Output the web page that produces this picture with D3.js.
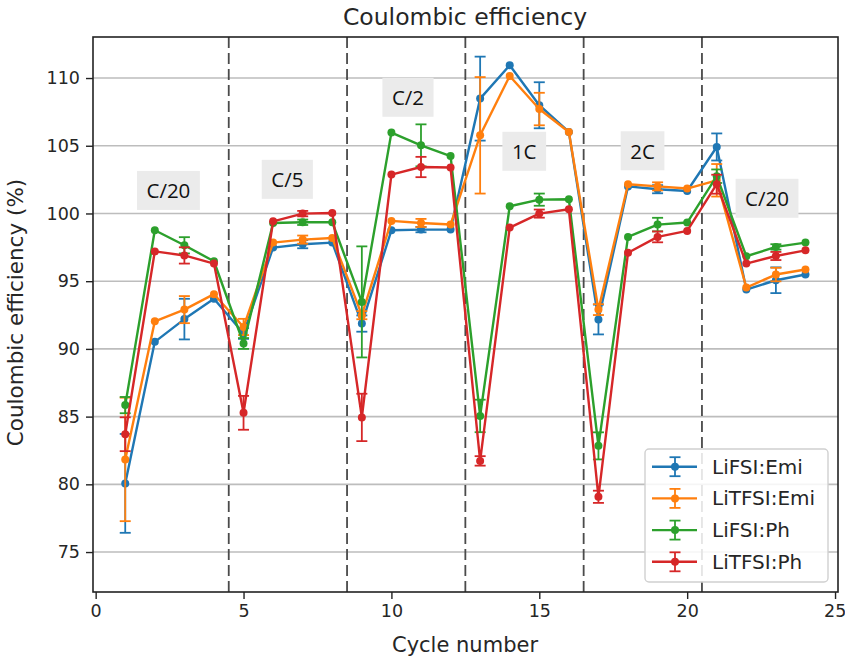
<!DOCTYPE html>
<html>
<head>
<meta charset="utf-8">
<script src="https://cdn.jsdelivr.net/npm/d3@7"></script>
<style>
  html, body { margin: 0; padding: 0; background: #fff; }
  svg { display: block; }
  text { font-family: "DejaVu Sans", sans-serif; fill: #262626; }
</style>
</head>
<body>
<svg id="chart" width="845" height="656"></svg>
<script>
// ---------- data ----------
const cycles = d3.range(1, 25);
const seriesNames = ["LiFSI:Emi", "LiTFSI:Emi", "LiFSI:Ph", "LiTFSI:Ph"];
const seriesColors = ["#1f77b4", "#ff7f0e", "#2ca02c", "#d62728"];

const lifsiEmi = [80.07, 90.52, 92.2, 93.7, 91.14, 97.48, 97.73, 97.85, 91.87, 98.76, 98.81, 98.81,
                  108.48, 110.94, 107.99, 106.02, 92.17, 102.0, 101.79, 101.66, 104.91, 94.38, 95.07, 95.49];
const lifsiEmiErr = [3.65, 0, 1.5, 0, 0.4, 0, 0.3, 0, 0.6, 0, 0.2, 0,
                     3.1, 0, 1.7, 0, 1.1, 0, 0.3, 0, 1.0, 0, 0.95, 0];

const litfsiEmi = [81.84, 92.04, 92.9, 94.04, 91.62, 97.85, 98.07, 98.19, 92.49, 99.45, 99.3, 99.18,
                   105.77, 110.15, 107.71, 106.02, 92.9, 102.16, 102.0, 101.84, 102.45, 94.53, 95.49, 95.86];
const litfsiEmiErr = [4.56, 0, 1.0, 0, 0.6, 0, 0.3, 0, 0.3, 0, 0.3, 0,
                      4.3, 0, 1.2, 0, 0.4, 0, 0.3, 0, 1.2, 0, 0.5, 0];

const lifsiPh = [85.85, 98.76, 97.65, 96.47, 90.4, 99.3, 99.35, 99.35, 93.47, 105.97, 105.03, 104.24,
                 85.05, 100.53, 101.02, 101.05, 82.84, 98.27, 99.18, 99.33, 102.75, 96.84, 97.53, 97.85];
const lifsiPhErr = [0.6, 0, 0.6, 0, 0.4, 0, 0.2, 0, 4.1, 0, 1.55, 0,
                    1.2, 0, 0.45, 0, 1.0, 0, 0.5, 0, 0.5, 0, 0.2, 0];

const litfsiPh = [83.7, 97.2, 96.9, 96.3, 85.28, 99.42, 99.99, 100.04, 84.94, 102.87, 103.43, 103.39,
                  81.73, 98.96, 99.99, 100.31, 79.08, 97.1, 98.27, 98.71, 102.16, 96.3, 96.86, 97.28];
const litfsiPhErr = [1.25, 0, 0.6, 0, 1.25, 0, 0.2, 0, 1.75, 0, 0.75, 0,
                     0.35, 0, 0.3, 0, 0.45, 0, 0.4, 0, 0.7, 0, 0.3, 0];

const seriesValues = [lifsiEmi, litfsiEmi, lifsiPh, litfsiPh];
const seriesErrors = [lifsiEmiErr, litfsiEmiErr, lifsiPhErr, litfsiPhErr];

const rateBoundaries = [4.5, 8.5, 12.5, 16.5, 20.5];
const rateLabels = ["C/20", "C/5", "C/2", "1C", "2C", "C/20"];
const rateLabelX = [2.46, 6.48, 10.56, 14.49, 18.49, 22.70];
const rateLabelY = [101.7, 102.52, 108.58, 104.59, 104.63, 101.12];

const xTicks = [0, 5, 10, 15, 20, 25];
const yTicks = [75, 80, 85, 90, 95, 100, 105, 110];

const titleText = "Coulombic efficiency";
const xLabelText = "Cycle number";
const yLabelText = "Coulombic efficiency (%)";

// ---------- layout ----------
const svg = d3.select("#chart");
const mLeft = 93, mRight = 838, mTop = 37, mBottom = 592;
const x = d3.scaleLinear().domain([-0.09, 25.1]).range([mLeft, mRight]);
const y = d3.scaleLinear().domain([72.05, 113.03]).range([mBottom, mTop]);

// grid
svg.append("g").selectAll("line").data(yTicks).join("line")
  .attr("x1", mLeft).attr("x2", mRight)
  .attr("y1", d => y(d)).attr("y2", d => y(d))
  .attr("stroke", "#bdbdbd").attr("stroke-width", 1.6);

// dashed separators
svg.append("g").selectAll("line").data(rateBoundaries).join("line")
  .attr("x1", d => x(d)).attr("x2", d => x(d))
  .attr("y1", mTop).attr("y2", mBottom)
  .attr("stroke", "#4a4a4a").attr("stroke-width", 1.8)
  .attr("stroke-dasharray", "11,5");

// annotation boxes
const ann = svg.append("g");
rateLabels.forEach((t, i) => {
  const g = ann.append("g");
  const txt = g.append("text")
    .attr("x", x(rateLabelX[i])).attr("y", y(rateLabelY[i]))
    .attr("text-anchor", "middle").attr("dominant-baseline", "central")
    .style("font-family", "'Open Sans', sans-serif")
    .style("font-size", "20.5px").style("fill", "#111")
    .text(t);
  const bb = txt.node().getBBox();
  g.insert("rect", "text")
    .attr("x", bb.x - 9.5).attr("y", y(rateLabelY[i]) - 19.5)
    .attr("width", bb.width + 19).attr("height", 39)
    .attr("fill", "#ebebeb");
});

// series
const capHalf = 5.5;
seriesValues.forEach((vals, si) => {
  const col = seriesColors[si];
  const errs = seriesErrors[si];
  const g = svg.append("g");
  const line = d3.line().x((d, i) => x(cycles[i])).y(d => y(d));
  g.append("path").datum(vals).attr("d", line)
    .attr("fill", "none").attr("stroke", col).attr("stroke-width", 2.4)
    .attr("stroke-linejoin", "round");
  vals.forEach((v, i) => {
    if (!errs[i]) return;
    const cx = x(cycles[i]);
    const y1 = y(v - errs[i]), y2 = y(v + errs[i]);
    g.append("line").attr("x1", cx).attr("x2", cx).attr("y1", y1).attr("y2", y2)
      .attr("stroke", col).attr("stroke-width", 1.8);
    [y1, y2].forEach(yy => g.append("line")
      .attr("x1", cx - capHalf).attr("x2", cx + capHalf).attr("y1", yy).attr("y2", yy)
      .attr("stroke", col).attr("stroke-width", 1.8));
  });
  g.selectAll("circle").data(vals).join("circle")
    .attr("cx", (d, i) => x(cycles[i])).attr("cy", d => y(d)).attr("r", 4)
    .attr("fill", col);
});

// axes frame
svg.append("rect").attr("x", mLeft).attr("y", mTop)
  .attr("width", mRight - mLeft).attr("height", mBottom - mTop)
  .attr("fill", "none").attr("stroke", "#222").attr("stroke-width", 1.6);

const xAxis = svg.append("g").attr("transform", `translate(0,${mBottom})`)
  .call(d3.axisBottom(x).tickValues(xTicks).tickSize(7).tickPadding(6).tickFormat(d3.format("d")));
const yAxis = svg.append("g").attr("transform", `translate(${mLeft},0)`)
  .call(d3.axisLeft(y).tickValues(yTicks).tickSize(7).tickPadding(6).tickFormat(d3.format("d")));
[xAxis, yAxis].forEach(a => {
  a.select(".domain").remove();
  a.selectAll(".tick line").attr("stroke", "#222").attr("stroke-width", 1.4);
  a.selectAll(".tick text").style("font-family", "'DejaVu Sans', sans-serif")
    .style("font-size", "17.5px").attr("fill", "#262626");
});
// keep the last x tick label inside the frame
xAxis.selectAll(".tick text").filter(d => d === 25).attr("text-anchor", "end").attr("dx", "0.62em");

// titles
svg.append("text").attr("x", 465).attr("y", 25)
  .attr("text-anchor", "middle").style("font-size", "23.5px").text(titleText);
svg.append("text").attr("x", 465).attr("y", 652)
  .attr("text-anchor", "middle").style("font-size", "21px").text(xLabelText);
svg.append("text").attr("transform", `translate(23,${(mTop + mBottom) / 2 - 2}) rotate(-90)`)
  .attr("text-anchor", "middle").style("font-size", "21.5px").text(yLabelText);

// legend
const lg = svg.append("g");
lg.append("rect").attr("x", 645).attr("y", 449).attr("width", 183).attr("height", 133)
  .attr("rx", 4).attr("fill", "#fff").attr("fill-opacity", 0.85)
  .attr("stroke", "#d0d0d0").attr("stroke-width", 1.4);
seriesNames.forEach((name, i) => {
  const cy = 466.7 + i * 31.7;
  const col = seriesColors[i];
  lg.append("line").attr("x1", 652).attr("x2", 697).attr("y1", cy).attr("y2", cy)
    .attr("stroke", col).attr("stroke-width", 2.4);
  lg.append("line").attr("x1", 675).attr("x2", 675).attr("y1", cy - 9.5).attr("y2", cy + 9.5)
    .attr("stroke", col).attr("stroke-width", 1.8);
  [cy - 9.5, cy + 9.5].forEach(yy => lg.append("line")
    .attr("x1", 675 - capHalf).attr("x2", 675 + capHalf).attr("y1", yy).attr("y2", yy)
    .attr("stroke", col).attr("stroke-width", 1.8));
  lg.append("circle").attr("cx", 675).attr("cy", cy).attr("r", 4).attr("fill", col);
  lg.append("text").attr("x", 712).attr("y", cy).attr("dominant-baseline", "central")
    .style("font-size", "20px").text(name);
});
</script>
</body>
</html>
